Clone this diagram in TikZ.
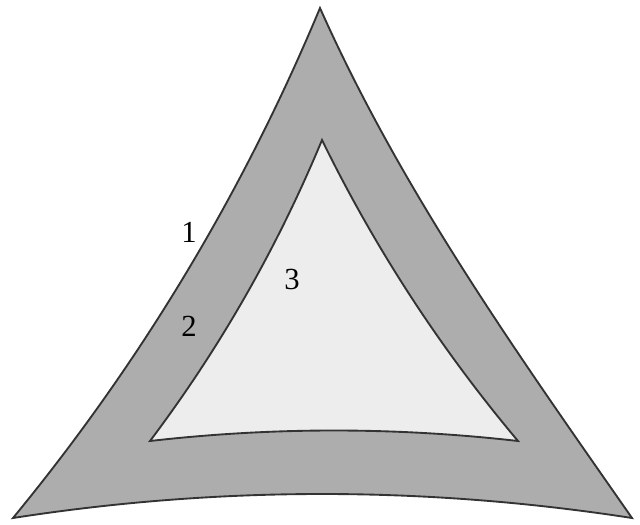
\documentclass[tikz,border=0pt]{standalone}
\usepackage{fontspec}
\setmainfont{Liberation Serif}
\begin{document}
\begin{tikzpicture}[x=0.75pt,y=-0.75pt,
  edge/.style={draw=black!80,line width=1.4pt,line join=miter},
  lbl/.style={inner sep=0pt,font=\fontsize{23}{23}\selectfont}]
\useasboundingbox (0,0) rectangle (640,525);
\coordinate (A) at (320,8);
\coordinate (L) at (13,518);
\coordinate (R) at (632,518);
\coordinate (a) at (322,140);
\coordinate (l) at (150,441);
\coordinate (r) at (518,441);
\path[edge,fill=black!32] (A) .. controls (242.7,193.3) and (140.3,363.3) .. (L)
  .. controls (219,486) and (425,486) .. (R)
  .. controls (517.8,354.3) and (401.8,191.6) .. (A) -- cycle;
\path[edge,fill=black!7] (a) .. controls (277.3,247.7) and (220,348) .. (l)
  .. controls (272.7,427) and (395.3,427) .. (r)
  .. controls (440.4,348.7) and (375,248.3) .. (a) -- cycle;
\node[lbl] (n1) at (189,232) {1};
\node[lbl] (n2) at (189,326) {2};
\node[lbl] (n3) at (292,279) {3};
\end{tikzpicture}
\end{document}
